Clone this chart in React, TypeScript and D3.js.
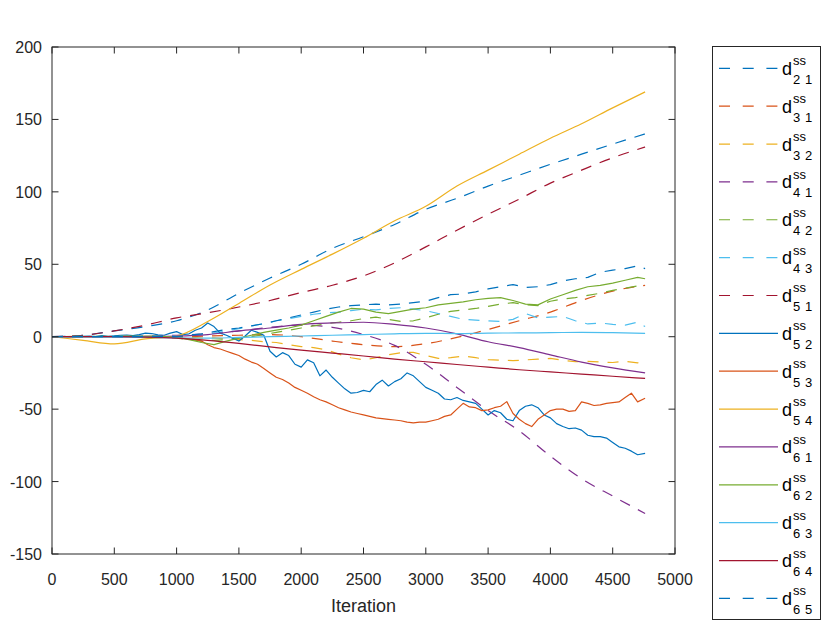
import * as d3 from "d3";

// sampling grids (iterations)
const iterCoarse = [0, 250, 500, 750, 1000, 1250, 1500, 1750, 2000, 2250, 2500, 2750, 3000, 3250, 3500, 3750, 4000, 4250, 4500, 4760];
const iterFine = d3.range(0, 4701, 100).concat([4760]);
const iterHalf = d3.range(0, 4701, 50).concat([4760]);

// smooth series, read on the coarse grid
const d21 = [0, 1, 4, 7, 11, 18.5, 30, 40.5, 50, 61, 69, 77.5, 88, 95.5, 104, 111.5, 119, 126, 133, 140];
const d31 = [0, 0, 0, 0, 0, 0.5, 1, 1.5, 0, -3, -5.5, -6.8, -4.8, -0.5, 5, 11, 17, 25, 31.5, 35.5];
const d41 = [0, 0, 0, 0.5, 1, 2, 4, 6.5, 8, 6.5, 1.5, -6, -19, -35, -51, -65, -82.5, -98, -110, -122];
const d51 = [0, 1, 4, 8, 13, 16.5, 20.5, 25, 30.5, 35.5, 42, 51, 62, 73.5, 84.5, 95, 106, 115, 123.5, 131];
const d54 = [0, -2.5, -5, -1.5, 0.5, 10.5, 23, 35.7, 46.5, 57, 68, 80, 90, 104, 115, 126, 137, 147, 158, 169];
const d61 = [0, 0, 0, 0.2, 0.5, 1.5, 4, 6, 8.5, 9.5, 10, 8.5, 6, 2, -3.5, -7.5, -12.5, -17.5, -21.5, -25];
const d63 = [0, -0.2, -0.3, -0.5, -0.8, -1, -0.5, 0, 0.5, 1, 1.5, 2, 2.3, 2.2, 2.5, 2.6, 2.8, 3, 2.8, 2.3];
const d64 = [0, 0, 0, -0.3, -1, -2.5, -4.6, -7, -9.3, -11.3, -13.3, -15.5, -17.3, -19.2, -21, -22.8, -24.3, -25.8, -27.3, -28.8];

// noisy series, read on the 100-step grid
const d32 = [0, 0, 0, 0, 0.3, 0, 0.2, 0, -0.3, 0, -0.5, -0.3, -1, -0.8, -1.5, -2, -2.5, -3.5, -4, -5.5, -6.8, -7.5, -9, -12, -14.5, -16, -14.5, -12.5, -11, -10.8, -13, -15, -14.5, -13.3, -14.5, -15.8, -16.2, -16.5, -16, -15.5, -15, -16.3, -17.2, -17, -17.5, -17.8, -17, -18, -17.2];
const d42 = [0, 0, 0, 0.2, 0, 0.2, 0, 0.3, 0, -0.3, -1, -2, -3, -2.5, -2, -1, 0, 1.5, 3, 4.5, 6, 7.5, 9, 10, 11, 12.5, 13.5, 12, 10.5, 11, 13, 15.5, 17.5, 18.5, 19.5, 21, 22.5, 23.5, 22, 21.5, 24.5, 26, 27, 28.5, 30, 32, 33.5, 35, 34];
const d43 = [0, 0, 0, 0.2, 0, 0.3, 0.5, 0.3, 0.6, 0.4, 0.8, 1, 1.5, 2.5, 4, 5.5, 7.5, 9, 11, 12.5, 14, 15.5, 16.5, 17, 18, 19, 18.5, 19.5, 20, 19, 18, 16, 14, 12, 11.5, 11, 10.5, 12, 16, 13, 13.5, 14, 11, 8.8, 9.5, 8.5, 8, 10, 7];
const d62 = [0, 0, 0.2, 0, 0.3, 0.1, 0.4, 0.2, 0.5, 0, -0.5, -2, -4, -5.5, -3, -1, 1, 3, 4.5, 6, 8, 11, 14, 17, 19.5, 19, 17, 16, 17.5, 19, 20, 22, 23, 24, 25.5, 26.5, 27, 25, 22.5, 22, 26, 29, 32, 34.5, 35.5, 37, 39, 41, 40];
const d65 = [0, 0, 0, 0, 0, 0, 0, 0, 0, 0, 0, 1, 2, 3.5, 5, 6, 7.5, 9, 11, 13, 15, 17, 19, 20.5, 21.5, 22, 22.5, 22, 22.5, 23.5, 24.5, 27, 29, 29.5, 31, 33, 34.5, 36, 34, 34.5, 36, 38.5, 40, 41, 44.5, 46, 47, 49, 47];

// the two most jagged series, read on the 50-step grid
const d52 = [0, 0, 0.2, -0.2, 0.5, 0.2, 0.4, 0.1, 0.8, 0.3, 0.6, 1, 1.2, 0.7, 1.5, 2.5, 2.2, 1.3, 1, 2.5,
  3.5, 1.5, 2, 4.5, 6, 9.5, 7, 2.5, 1, -1, -3, 0.5, 4.5, 3, 1, -10, -14, -11, -13, -19,
  -21, -16, -18, -27, -23, -28, -32, -36, -39, -38.5, -37, -38, -33, -30, -34, -31, -29, -25, -27, -31,
  -35, -37, -39, -43, -43.5, -42, -44, -45, -46, -50, -54, -51, -52.5, -57, -58, -51, -48, -47, -49, -54,
  -56, -60, -62, -63.5, -63, -64.5, -68, -69, -69, -70, -73, -76, -77, -79, -81.5, -80.5];
const d53 = [0, 0, 0, 0, 0, 0, 0, 0, 0, 0, 0, 0, 0, 0, 0, 0, 0, 0, -0.3, -0.2,
  -0.5, -1, -1.5, -2, -3, -5.5, -7.5, -8.5, -10, -11.5, -13, -15.5, -17.5, -19, -22, -25, -28, -29.5, -32, -35,
  -37, -39, -41.5, -43.5, -45, -47, -49, -50.5, -52, -53, -54, -55, -56, -56.5, -57, -57.5, -58, -59, -59.5, -59,
  -59, -58, -57, -55, -54, -50, -46, -48.5, -49, -51, -50.5, -49, -48, -44.8, -53, -57, -60, -62, -57, -54,
  -51, -50, -50, -51.5, -51, -45, -46, -47.5, -47, -46, -45.5, -45, -42, -39, -45, -42.5];

const xTicks = [0, 500, 1000, 1500, 2000, 2500, 3000, 3500, 4000, 4500, 5000];
const yTicks = [-150, -100, -50, 0, 50, 100, 150, 200];

const C = ["#0072BD", "#D95319", "#EDB120", "#7E2F8E", "#77AC30", "#4DBEEE", "#A2142F"];

const series = [
  { sub: ["2", "1"], ys: d21, xs: iterCoarse, color: C[0], dash: true },
  { sub: ["3", "1"], ys: d31, xs: iterCoarse, color: C[1], dash: true },
  { sub: ["3", "2"], ys: d32, xs: iterFine, color: C[2], dash: true },
  { sub: ["4", "1"], ys: d41, xs: iterCoarse, color: C[3], dash: true },
  { sub: ["4", "2"], ys: d42, xs: iterFine, color: C[4], dash: true },
  { sub: ["4", "3"], ys: d43, xs: iterFine, color: C[5], dash: true },
  { sub: ["5", "1"], ys: d51, xs: iterCoarse, color: C[6], dash: true },
  { sub: ["5", "2"], ys: d52, xs: iterHalf, color: C[0], dash: false },
  { sub: ["5", "3"], ys: d53, xs: iterHalf, color: C[1], dash: false },
  { sub: ["5", "4"], ys: d54, xs: iterCoarse, color: C[2], dash: false },
  { sub: ["6", "1"], ys: d61, xs: iterCoarse, color: C[3], dash: false },
  { sub: ["6", "2"], ys: d62, xs: iterFine, color: C[4], dash: false },
  { sub: ["6", "3"], ys: d63, xs: iterCoarse, color: C[5], dash: false },
  { sub: ["6", "4"], ys: d64, xs: iterCoarse, color: C[6], dash: false },
  { sub: ["6", "5"], ys: d65, xs: iterFine, color: C[0], dash: true },
];

const W = 830;
const H = 623;
const L = 52, R = 675, T = 47, B = 554;
const FONT = "'Liberation Sans', Arial, Helvetica, sans-serif";
const AX = "#262626";

export default function App() {
  const x = d3.scaleLinear().domain([0, 5000]).range([L, R]);
  const y = d3.scaleLinear().domain([-150, 200]).range([B, T]);

  const paths = series.map((s) => {
    const pts = s.xs.map((v, i) => [v, s.ys[i]] as [number, number]);
    const gen = d3
      .line<[number, number]>()
      .x((d) => x(d[0]))
      .y((d) => y(d[1]))
      .curve(s.xs === iterCoarse ? d3.curveMonotoneX : d3.curveLinear);
    return gen(pts) || "";
  });

  const legY = d3.scaleLinear().domain([0, 14]).range([68.3, 598.4]);

  return (
    <svg width={W} height={H} style={{ position: "absolute", left: 0, top: 0, background: "#fff" }} fontFamily={FONT}>
      <rect x={0} y={0} width={W} height={H} fill="#fff" />
      <defs>
        <clipPath id="plot">
          <rect x={L} y={T} width={R - L} height={B - T} />
        </clipPath>
      </defs>

      <g clipPath="url(#plot)">
        {series.map((s, i) => (
          <path
            key={s.sub.join("")}
            d={paths[i]}
            fill="none"
            stroke={s.color}
            strokeWidth={1.2}
            strokeDasharray={s.dash ? "11,9" : undefined}
            strokeLinejoin="round"
          />
        ))}
      </g>

      {/* axes box */}
      <rect x={L} y={T} width={R - L} height={B - T} fill="none" stroke={AX} strokeWidth={1} />
      {xTicks.map((t) => (
        <g key={"x" + t}>
          <line x1={x(t)} x2={x(t)} y1={B} y2={B - 6.5} stroke={AX} />
          <line x1={x(t)} x2={x(t)} y1={T} y2={T + 6.5} stroke={AX} />
          <text x={x(t)} y={584.5} textAnchor="middle" fontSize={16} fill={AX}>
            {t}
          </text>
        </g>
      ))}
      {yTicks.map((t) => (
        <g key={"y" + t}>
          <line x1={L} x2={L + 6.5} y1={y(t)} y2={y(t)} stroke={AX} />
          <line x1={R} x2={R - 6.5} y1={y(t)} y2={y(t)} stroke={AX} />
          <text x={42} y={y(t) + 6} textAnchor="end" fontSize={16} fill={AX}>
            {t}
          </text>
        </g>
      ))}
      <text x={(L + R) / 2} y={611.5} textAnchor="middle" fontSize={18} fill={AX}>
        Iteration
      </text>

      {/* legend */}
      <rect x={712.5} y={46.5} width={108} height={573} fill="#fff" stroke={AX} strokeWidth={1} />
      {series.map((s, i) => {
        const ly = legY(i);
        return (
          <g key={"l" + s.sub.join("")}>
            <line
              x1={719}
              x2={778}
              y1={ly}
              y2={ly}
              stroke={s.color}
              strokeWidth={1.2}
              strokeDasharray={s.dash ? "11,12.7" : undefined}
            />
            <text x={782} y={ly + 6.5} fontSize={18} fill="#000">
              d
            </text>
            <text x={793} y={ly - 3} fontSize={13} fill="#000">
              ss
            </text>
            <text y={ly + 15.5} fontSize={13} fill="#000">
              <tspan x={793}>{s.sub[0]}</tspan>
              <tspan x={805}>{s.sub[1]}</tspan>
            </text>
          </g>
        );
      })}
    </svg>
  );
}
